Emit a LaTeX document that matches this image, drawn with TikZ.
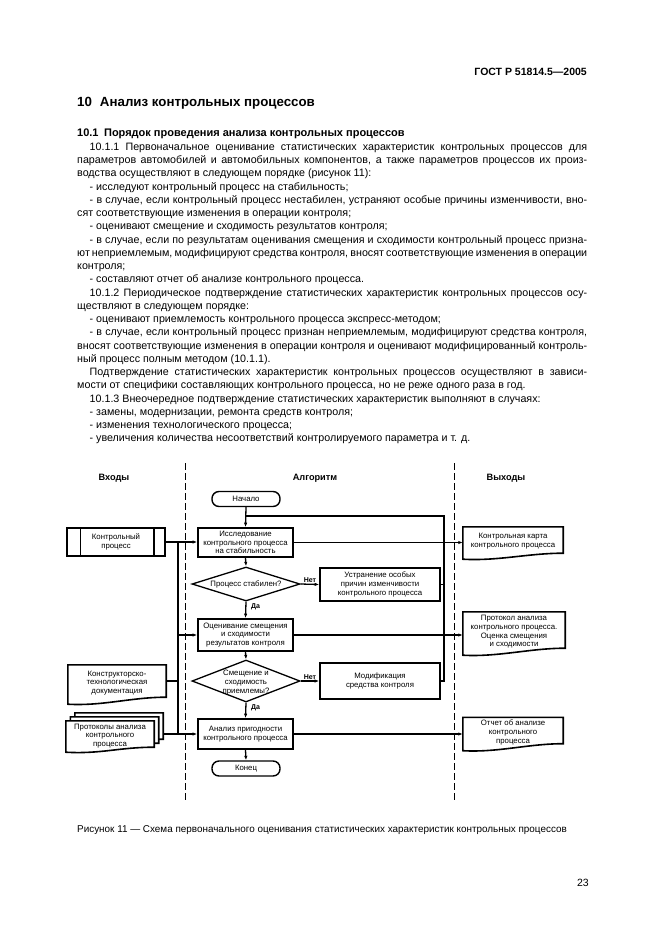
\documentclass[tikz,border=0pt]{standalone}
\usepackage{fontspec}
\setmainfont{Liberation Sans}
\usetikzlibrary{arrows.meta,shapes.geometric,calc}
\newcommand\ftxt{\fontsize{7.8}{8.7}\selectfont}
\newcommand\fbody{\fontsize{10.7}{12}\selectfont}
\newcommand\jfull[3]{\node[txt,anchor=base west] (#1) at (77,#2) {\makebox[510pt][s]{#3}};}
\newcommand\jind[3]{\node[txt,anchor=base west] (#1) at (89.5,#2) {\makebox[497.5pt][s]{#3}};}
\newcommand\lfull[3]{\node[txt,anchor=base west] (#1) at (77,#2) {#3};}
\newcommand\lind[3]{\node[txt,anchor=base west] (#1) at (89.5,#2) {#3};}
\newcommand\docpath[3]{\draw[docl,#3] (#1.north west) -- (#1.north east) -- (#1.south east) .. controls ($(#1.south east)+(-35,0)$) and ($(#1.south west)+(35,#2+2)$) .. ($(#1.south west)+(0,#2)$) -- cycle;}
\tikzset{
  txt/.style={inner sep=0pt, font=\fbody},
  conn/.style={line width=1.3pt},
  arr/.style={conn, -{Latex[length=4.5pt,width=3.4pt]}},
  proc/.style={draw, line width=1.6pt, minimum width=95pt, inner sep=0.5pt, align=center, font=\ftxt},
  side/.style={draw, line width=1.6pt, minimum width=120pt, inner sep=0.5pt, align=center, font=\ftxt},
  term/.style={draw, line width=1.4pt, rounded corners=7pt, minimum width=68pt, minimum height=15pt, inner sep=0pt, font=\ftxt},
  dia/.style={draw, shape=diamond, line width=1.3pt, inner sep=0pt},
  diat/.style={inner sep=0pt, align=center, font=\ftxt},
  doc/.style={inner sep=0pt, align=center, font=\ftxt},
  docl/.style={line width=1.6pt, fill=white},
  yn/.style={inner sep=0pt, font=\bfseries\fontsize{7}{8}\selectfont},
  colh/.style={inner sep=0pt, font=\bfseries\fontsize{9.2}{11}\selectfont},
  sep/.style={line width=1pt, dash pattern=on 7pt off 3pt},
}
\begin{document}
\begin{tikzpicture}[x=1pt,y=-1pt]
\fill[white] (0,0) rectangle (662,936);
\useasboundingbox (0,0) rectangle (662,936);

% ---------- page text ----------
\node[inner sep=0pt, anchor=base east, font=\bfseries\fontsize{10.5}{12}\selectfont] (hdr) at (587,76) {ГОСТ Р 51814.5—2005};
\node[inner sep=0pt, anchor=base west, font=\bfseries\fontsize{13.3}{15}\selectfont] (sec) at (77,106.5) {10\hspace{0.6em}Анализ контрольных процессов};
\node[inner sep=0pt, anchor=base west, font=\bfseries\fontsize{11}{12}\selectfont] (l0) at (77,137) {10.1\hspace{0.5em}Порядок проведения анализа контрольных процессов};
\jind{l1}{150.26}{10.1.1 Первоначальное оценивание статистических характеристик контрольных процессов для}
\jfull{l2}{163.52}{параметров автомобилей и автомобильных компонентов, а также параметров процессов их произ-}
\lfull{l3}{176.78}{водства осуществляют в следующем порядке (рисунок 11):}
\lind{l4}{190.04}{- исследуют контрольный процесс на стабильность;}
\jind{l5}{203.3}{- в случае, если контрольный процесс нестабилен, устраняют особые причины изменчивости, вно-}
\lfull{l6}{216.56}{сят соответствующие изменения в операции контроля;}
\lind{l7}{229.82}{- оценивают смещение и сходимость результатов контроля;}
\jind{l8}{243.08}{- в случае, если по результатам оценивания смещения и сходимости контрольный процесс призна-}
\jfull{l9}{256.34}{ют неприемлемым, модифицируют средства контроля, вносят соответствующие изменения в операции}
\lfull{l10}{269.6}{контроля;}
\lind{l11}{282.86}{- составляют отчет об анализе контрольного процесса.}
\jind{l12}{296.12}{10.1.2 Периодическое подтверждение статистических характеристик контрольных процессов осу-}
\lfull{l13}{309.38}{ществляют в следующем порядке:}
\lind{l14}{322.64}{- оценивают приемлемость контрольного процесса экспресс-методом;}
\jind{l15}{335.9}{- в случае, если контрольный процесс признан неприемлемым, модифицируют средства контроля,}
\jfull{l16}{349.16}{вносят соответствующие изменения в операции контроля и оценивают модифицированный контроль-}
\lfull{l17}{362.42}{ный процесс полным методом (10.1.1).}
\jind{l18}{375.68}{Подтверждение статистических характеристик контрольных процессов осуществляют в зависи-}
\lfull{l19}{388.94}{мости от специфики составляющих контрольного процесса, но не реже одного раза в год.}
\lind{l20}{402.2}{10.1.3 Внеочередное подтверждение статистических характеристик выполняют в случаях:}
\lind{l21}{415.46}{- замены, модернизации, ремонта средств контроля;}
\lind{l22}{428.72}{- изменения технологического процесса;}
\lind{l23}{441.98}{- увеличения количества несоответствий контролируемого параметра и т. д.}

\node[inner sep=0pt, anchor=base west, font=\fontsize{9.9}{11}\selectfont] (cap) at (77,832) {Рисунок 11 — Схема первоначального оценивания статистических характеристик контрольных процессов};
\node[inner sep=0pt, anchor=base east, font=\fontsize{10.5}{12}\selectfont] (pg) at (589,886) {23};

% ---------- column headers and separators ----------
\node[colh] (hin) at (114,478) {Входы};
\node[colh] (halg) at (315,478) {Алгоритм};
\node[colh] (hout) at (506,478) {Выходы};
\coordinate (sLt) at (185,463);
\coordinate (sLb) at (185,803);
\coordinate (sRt) at (454,463);
\coordinate (sRb) at (454,803);
\draw[sep] (sLt) -- (sLb);
\draw[sep] (sRt) -- (sRb);

% ---------- algorithm column ----------
\node[term] (start) at (246,499) {Начало};
\node[proc, minimum height=29pt] (b1) at (245.5,542.5) {Исследование\\контрольного процесса\\на стабильность};
\node[dia, minimum width=108pt, minimum height=34pt] (d1) at (246,584) {};
\node[diat] (d1t) at (d1.center) {Процесс стабилен?};
\node[side, minimum height=33pt] (u1) at (380,584.5) {Устранение особых\\причин изменчивости\\контрольного процесса};
\node[proc, minimum height=32pt] (b2) at (245.5,635) {Оценивание смещения\\и сходимости\\результатов контроля};
\node[dia, minimum width=108pt, minimum height=42pt] (d2) at (246,681) {};
\node[diat] (d2t) at ($(d2.center)+(0,1.5)$) {Смещение и\\сходимость\\приемлемы?};
\node[side, minimum height=36pt] (m1) at (380,681) {Модификация\\средства контроля};
\node[proc, minimum height=30pt] (b3) at (245.5,734) {Анализ пригодности\\контрольного процесса};
\node[term] (fin) at (246,768.5) {Конец};

\node[yn, anchor=south west] (n1) at ($(d1.east)+(3,-1.5)$) {Нет};
\node[yn, anchor=west] (y1) at ($(d1.south)+(5,5)$) {Да};
\node[yn, anchor=south west] (n2) at ($(d2.east)+(3,-1.5)$) {Нет};
\node[yn, anchor=west] (y2) at ($(d2.south)+(5,5)$) {Да};

\coordinate (lp) at (444,516);
\coordinate (jn) at (start.south |- lp);
\draw[arr] (start.south) -- (b1.north);
\draw[conn] (u1.east) -| (lp) -- (jn);
\draw[conn] (m1.east) -| (lp);
\draw[arr] (b1.south) -- (d1.north);
\draw[arr] (d1.east) -- (u1.west);
\draw[arr] (d1.south) -- (b2.north);
\draw[arr] (b2.south) -- (d2.north);
\draw[arr] (d2.east) -- (m1.west);
\draw[arr] (d2.south) -- (b3.north);
\draw[arr] (b3.south) -- (fin.north);

% ---------- inputs ----------
\node[draw, line width=1.6pt, minimum width=98pt, minimum height=28pt, inner sep=0pt, align=center, font=\ftxt] (cp) at (116,542) {Контрольный\\процесс};
\draw[line width=1.4pt] ($(cp.north west)+(14,0)$) -- ($(cp.south west)+(14,0)$);
\draw[line width=1.4pt] ($(cp.north east)+(-12,0)$) -- ($(cp.south east)+(-12,0)$);

\node[doc, minimum width=98pt, minimum height=32pt] (kd) at (117,681) {};
\docpath{kd}{7}{}
\node[doc] (kdt) at ($(kd.center)+(0,2)$) {Конструкторско-\\технологическая\\документация};

\node[doc, minimum width=88pt, minimum height=26pt] (pr3) at (119,726) {};
\node[doc, minimum width=88pt, minimum height=26pt] (pr2) at (114.5,730) {};
\node[doc, minimum width=88pt, minimum height=26pt] (pr1) at (110,734) {};
\docpath{pr3}{5}{}
\docpath{pr2}{5}{}
\docpath{pr1}{5}{}
\node[doc] (prt) at ($(pr1.center)+(0,2)$) {Протоколы анализа\\контрольного\\процесса};

\coordinate (busT) at (178,542);
\coordinate (busB) at (178,734);
\draw[arr] (cp.east) -- (b1.west |- cp.east);
\draw[conn] (busT) -- (busB);
\draw[arr] (b2.west -| busT) -- (b2.west);
\draw[conn] (kd.east) -- (kd.east -| busT);
\draw[arr] (pr3.east |- b3.west) -- (b3.west);

% ---------- outputs ----------
\node[doc, minimum width=100pt, minimum height=26pt] (o1) at (513,540) {};
\docpath{o1}{6}{}
\node[doc] (o1t) at ($(o1.center)+(0,1)$) {Контрольная карта\\контрольного процесса};
\node[doc, minimum width=102pt, minimum height=36pt] (o2) at (514,630) {};
\docpath{o2}{7}{}
\node[doc] (o2t) at ($(o2.center)+(0,2)$) {Протокол анализа\\контрольного процесса.\\Оценка смещения\\и сходимости};
\node[doc, minimum width=100pt, minimum height=26pt] (o3) at (513,730.5) {};
\docpath{o3}{7}{}
\node[doc] (o3t) at ($(o3.center)+(0,2)$) {Отчет об анализе\\контрольного\\процесса};

\draw[arr] (b1.east) -- (b1.east -| o1.west);
\draw[arr] (b2.east) -- (b2.east -| o2.west);
\draw[arr] (b3.east) -- (b3.east -| o3.west);
\end{tikzpicture}
\end{document}
